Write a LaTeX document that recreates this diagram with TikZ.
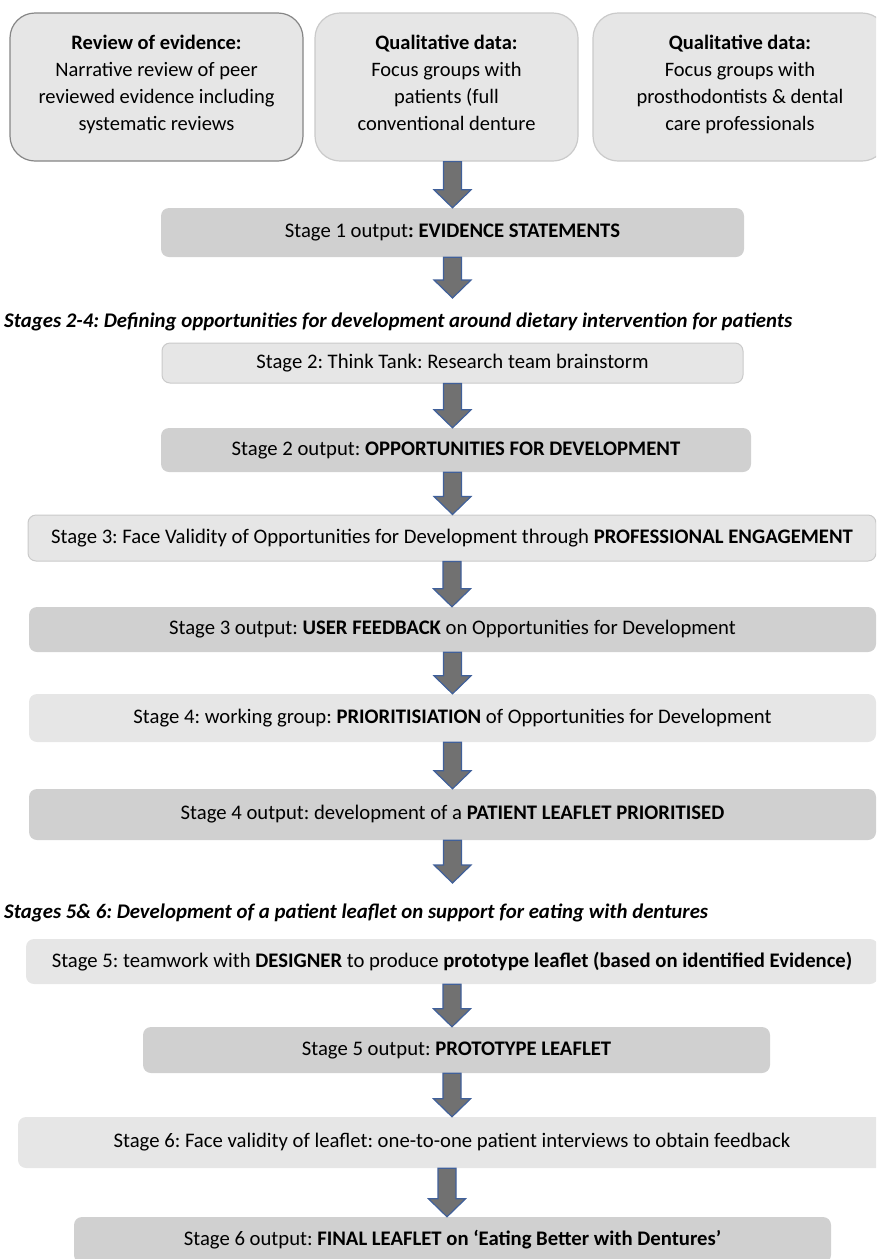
\documentclass[tikz,border=0pt]{standalone}
\usepackage{fontspec}
\setmainfont{Carlito}
\usetikzlibrary{calc}
\frenchspacing

\definecolor{lightbox}{HTML}{E6E6E6}
\definecolor{darkbox}{HTML}{D0D0D0}
\definecolor{boxline}{HTML}{CACACA}
\definecolor{arrowfill}{HTML}{717171}
\definecolor{arrowline}{HTML}{40609A}

\tikzset{
    stagebox/.style={rectangle, rounded corners=8pt, inner sep=0pt, fill=lightbox,
        font=\fontsize{20.7}{24}\selectfont},
    outputbox/.style={stagebox, fill=darkbox},
    sourcebox/.style={rectangle, rounded corners=25pt, inner sep=0pt, fill=lightbox,
        draw=boxline, line width=1.2pt, minimum height=148pt, align=center,
        font=\fontsize{20.5}{27}\selectfont},
    phasetitle/.style={anchor=west, inner sep=0pt, font=\fontsize{20.8}{24}\selectfont\bfseries\itshape},
    blockarrow/.style={fill=arrowfill, draw=arrowline, line width=1.2pt,
        to path={let \p1=(\tikztostart), \p2=(\tikztotarget) in
            (\x1-9pt,\y1) -- (\x1+9pt,\y1) -- (\x1+9pt,\y2+18pt) -- (\x1+18.5pt,\y2+18pt)
            -- (\x1,\y2) -- (\x1-18.5pt,\y2+18pt) -- (\x1-9pt,\y2+18pt) -- cycle}},
}

\begin{document}
\begin{tikzpicture}[x=1pt, y=-1pt]
    \useasboundingbox (0,0) rectangle (876,1259);
    \clip (0,0) rectangle (876,1259);

    % stage 1
    \node[sourcebox, draw=gray!95, minimum width=293pt] (review) at (156.5,87)
        {\textbf{Review of evidence:}\\Narrative review of peer\\reviewed evidence including\\systematic reviews\\[-19pt]};
    \node[sourcebox, minimum width=263pt] (patients) at (446.5,87)
        {\textbf{Qualitative data:}\\Focus groups with\\patients (full\\conventional denture\\[-19pt]};
    \node[sourcebox, minimum width=294pt] (professionals) at (740,87)
        {\textbf{Qualitative data:}\\Focus groups with\\prosthodontists \& dental\\care professionals\\[-19pt]};

    \node[outputbox, minimum width=583pt, minimum height=49pt] (out1) at (452.5,232.5)
        {Stage 1 output\textbf{: EVIDENCE STATEMENTS}};
    \coordinate (end1) at (452,298);

    % stages 2-4
    \node[phasetitle] (phase24) at (4,322)
        {Stages 2-4: Defining opportunities for development around dietary intervention for patients};

    \node[stagebox, draw=boxline, line width=1pt, minimum width=581pt, minimum height=40pt] (think) at (452.5,363)
        {Stage 2: Think Tank: Research team brainstorm};
    \node[outputbox, minimum width=590pt, minimum height=44pt] (out2) at (456,450)
        {Stage 2 output: \textbf{OPPORTUNITIES FOR DEVELOPMENT}};
    \node[stagebox, draw=boxline, line width=1pt, minimum width=848pt, minimum height=46pt] (validity) at (452,538)
        {Stage 3: Face Validity of Opportunities for Development through \textbf{PROFESSIONAL ENGAGEMENT}};
    \node[outputbox, minimum width=847pt, minimum height=45pt] (out3) at (452.5,629.5)
        {Stage 3 output: \textbf{USER FEEDBACK} on Opportunities for Development};
    \node[stagebox, minimum width=847pt, minimum height=48pt] (working) at (452.5,718)
        {Stage 4: working group: \textbf{PRIORITISIATION} of Opportunities for Development};
    \node[outputbox, minimum width=847pt, minimum height=51pt] (out4) at (452.5,814.5)
        {Stage 4 output: development of a \textbf{PATIENT LEAFLET PRIORITISED}};
    \coordinate (end4) at (452,883);

    % stages 5-6
    \node[phasetitle] (phase56) at (4,913)
        {Stages 5\& 6: Development of a patient leaflet on support for eating with dentures};

    \node[stagebox, minimum width=852pt, minimum height=45pt] (designer) at (452,961.5)
        {Stage 5: teamwork with \textbf{DESIGNER} to produce \textbf{prototype leaflet (based on identified Evidence)}};
    \node[outputbox, minimum width=627pt, minimum height=46pt] (out5) at (456.5,1050)
        {Stage 5 output: \textbf{PROTOTYPE LEAFLET}};
    \node[stagebox, minimum width=868pt, minimum height=51pt] (interviews) at (452,1142.5)
        {Stage 6: Face validity of leaflet: one-to-one patient interviews to obtain feedback};
    \node[outputbox, minimum width=757pt, minimum height=46pt] (out6) at (452.5,1240)
        {Stage 6 output: \textbf{FINAL LEAFLET on ‘Eating Better with Dentures’}};

    \draw[blockarrow] (patients.south -| out1.north) to (out1.north);
    \draw[blockarrow] (out1.south) to (end1);
    \draw[blockarrow] (think.south) to (out2.north -| think.south);
    \draw[blockarrow] (out2.south -| think.south) to (validity.north);
    \draw[blockarrow] (validity.south) to (out3.north);
    \draw[blockarrow] (out3.south) to (working.north);
    \draw[blockarrow] (working.south) to (out4.north);
    \draw[blockarrow] (out4.south) to (end4);
    \draw[blockarrow] (designer.south) to (out5.north);
    \draw[blockarrow] (out5.south -| designer.south) to (interviews.north);
    \draw[blockarrow] ([xshift=-5pt]interviews.south) to (out6.north);
\end{tikzpicture}
\end{document}
